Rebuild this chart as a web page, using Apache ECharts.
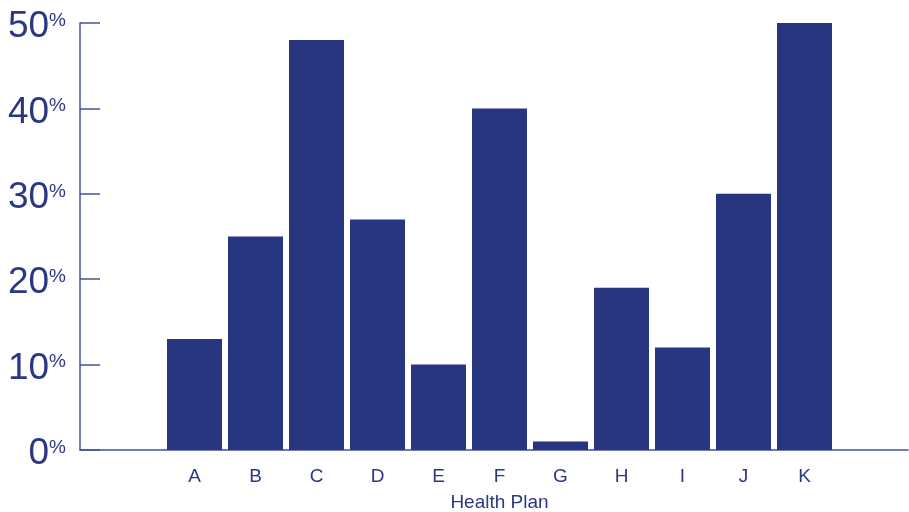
<!DOCTYPE html>
<html>
<head>
<meta charset="utf-8">
<script src="https://cdn.jsdelivr.net/npm/echarts@6/dist/echarts.min.js"></script>
<style>
  html, body { margin: 0; padding: 0; background: #fff; }
  #chart { width: 909px; height: 512px; }
</style>
</head>
<body>
<div id="chart"></div>
<script>
// Health plan categories and their percentage values
var plans = ['A', 'B', 'C', 'D', 'E', 'F', 'G', 'H', 'I', 'J', 'K'];
var percents = [13, 25, 48, 27, 10, 40, 1, 19, 12, 30, 50];
var yTicks = [0, 10, 20, 30, 40, 50];

var navy = '#283580';
var ink = '#2b3785';
var lineColor = '#44509a';
var font = 'Liberation Sans, Arial, Helvetica, sans-serif';

var chart = echarts.init(document.getElementById('chart'));
chart.setOption({
  animation: false,
  backgroundColor: '#fff',
  grid: [
    // frame grid: carries the visible axes
    { left: 80, right: 1, top: 23, bottom: 62, containLabel: false, outerBoundsMode: 'none' },
    // plotting grid: holds the bars
    { left: 164, right: 74, top: 23, bottom: 62, containLabel: false, outerBoundsMode: 'none' }
  ],
  xAxis: [
    {
      gridIndex: 0, type: 'value', min: 0, max: 1,
      axisLine: { show: true, lineStyle: { color: lineColor, width: 1.5 } },
      axisTick: { show: false }, axisLabel: { show: false }, splitLine: { show: false }
    },
    {
      gridIndex: 1, type: 'category', data: plans,
      axisLine: { show: false }, axisTick: { show: false },
      axisLabel: { color: ink, fontSize: 19, fontFamily: font, margin: 17 },
      name: 'Health Plan', nameLocation: 'middle', nameGap: 43,
      nameTextStyle: { color: ink, fontSize: 19, fontFamily: font }
    }
  ],
  yAxis: [
    {
      gridIndex: 0, type: 'value', min: yTicks[0], max: yTicks[yTicks.length - 1], interval: 10,
      axisLine: { show: true, lineStyle: { color: lineColor, width: 1.5 } },
      axisTick: { show: true, inside: true, length: 20, lineStyle: { color: lineColor, width: 1.5 } },
      splitLine: { show: false },
      axisLabel: {
        margin: 14,
        padding: [8, 0, 0, 0],
        formatter: function (v) { return '{n|' + v + '}{p|%}'; },
        rich: {
          n: { color: ink, fontSize: 37, fontFamily: font, lineHeight: 36 },
          p: { color: ink, fontSize: 19, fontFamily: font, verticalAlign: 'top', lineHeight: 36, padding: [2, 0, 0, 0] }
        }
      }
    },
    {
      gridIndex: 1, type: 'value', min: yTicks[0], max: yTicks[yTicks.length - 1], interval: 10,
      show: false, splitLine: { show: false }
    }
  ],
  series: [
    {
      type: 'bar', xAxisIndex: 1, yAxisIndex: 1,
      data: percents, barWidth: 55,
      itemStyle: { color: navy }
    }
  ]
});
</script>
</body>
</html>
